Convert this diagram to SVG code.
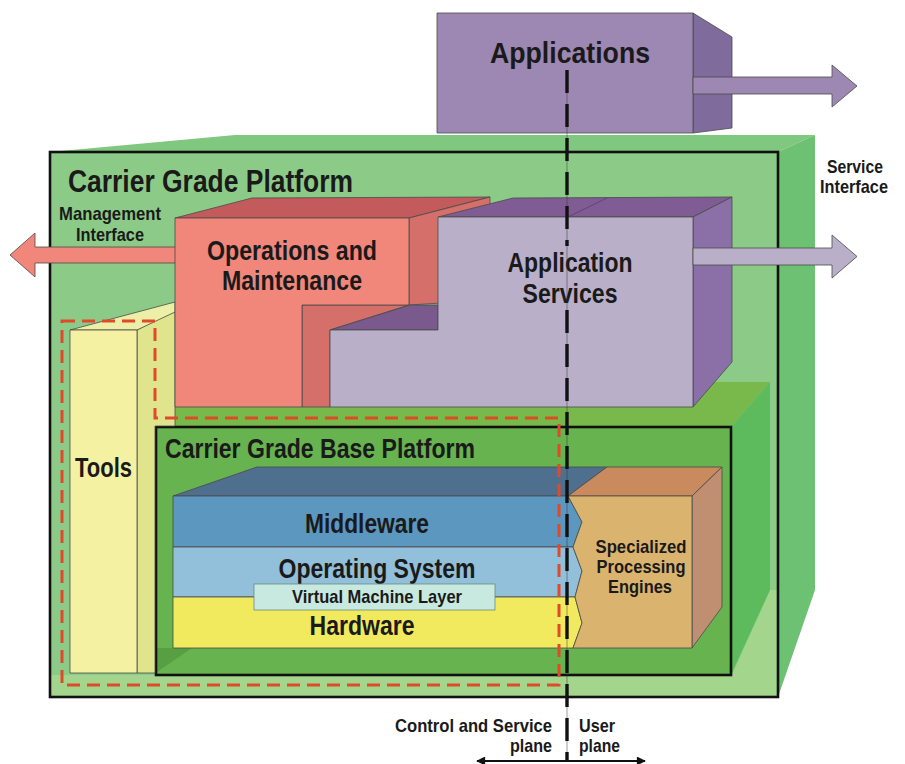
<svg xmlns="http://www.w3.org/2000/svg" width="905" height="764" viewBox="0 0 905 764">
<defs>
<style>
text{font-family:"Liberation Sans Narrow","Liberation Sans",Arial,sans-serif;font-weight:bold;fill:#1a1a1a}
.l{font-size:27px}
.m{font-size:19px}
.s{font-size:18.5px}
.e{stroke:#4a4a4a;stroke-width:0.8;stroke-linejoin:round}
.box{fill:none;stroke:#111;stroke-width:2.6}
</style>
<marker id="ah" viewBox="0 0 10 10" refX="9" refY="5" markerWidth="11" markerHeight="9" markerUnits="userSpaceOnUse" orient="auto">
<path d="M0,0 L10,5 L0,10 Z" fill="#111"/>
</marker>
</defs>
<rect width="905" height="764" fill="#ffffff"/>

<g id="carrier-grade-platform">
<polygon points="50,152 235,135 815,135 778,152" fill="#80c77f"/>
<polygon points="778,152 815,135 815,590 778,697" fill="#6dc172"/>
<rect x="50" y="152" width="728" height="545" fill="#8ccb87"/>
<polygon points="50,675 732,675 770,590 778,590 778,697 50,697" fill="#a3d68c"/>
<rect class="box" x="50" y="152" width="728" height="545"/>
<text x="68" y="192" style="font-size:31px" textLength="285" lengthAdjust="spacingAndGlyphs">Carrier Grade Platform</text>
</g>

<g id="base-platform">
<polygon points="156,427 200,382 770,382 731,427" fill="#79b94b"/>
<polygon points="731,427 770,382 770,590 731,675" fill="#5dbb5d"/>
<rect x="156" y="427" width="575" height="248" fill="#66b34f"/>
<polygon points="157,648 192,648 157,672" fill="#56a043"/>
<rect class="box" x="156" y="427" width="575" height="248"/>
<text class="l" x="165" y="458" textLength="310" lengthAdjust="spacingAndGlyphs">Carrier Grade Base Platform</text>
</g>

<g id="tools">
<polygon class="e" points="137,330 175,310 175,426 155,426 155,673 137,673" fill="#e0e48c"/>
<polygon class="e" points="70,330 175,302 175,312 137,330" fill="#ecefa6"/>
<rect class="e" x="70" y="330" width="67" height="343" fill="#f5f1a3"/>
<text class="l" x="75" y="477" textLength="57" lengthAdjust="spacingAndGlyphs">Tools</text>
</g>

<g id="management-interface">
<path class="e" d="M176,247 H35 V233 L10,255 L35,277 V263 H176 Z" fill="#f0877a"/>
<text class="s" x="110" y="220" text-anchor="middle" textLength="102" lengthAdjust="spacingAndGlyphs">Management</text>
<text class="s" x="110" y="241" text-anchor="middle" textLength="68" lengthAdjust="spacingAndGlyphs">Interface</text>
</g>

<g id="operations-maintenance">
<polygon class="e" points="175,218 252,198 490,197 409,218" fill="#c35a5c"/>
<polygon class="e" points="409,218 490,197 490,300 409,305" fill="#d56f69"/>
<polygon class="e" points="302,305 409,305 330,330 330,407 302,407" fill="#d56f69"/>
<polygon class="e" points="175,218 409,218 409,305 302,305 302,407 175,407" fill="#f0877a"/>
<text class="l" x="292" y="260" text-anchor="middle" textLength="170" lengthAdjust="spacingAndGlyphs">Operations and</text>
<text class="l" x="292" y="290" text-anchor="middle" textLength="140" lengthAdjust="spacingAndGlyphs">Maintenance</text>
</g>

<g id="application-services">
<polygon class="e" points="438,217 513,198 732,197 693,217" fill="#7f5c93"/>
<line x1="568" y1="217" x2="607" y2="198" stroke="#5a3f6e" stroke-width="0.8"/>
<polygon class="e" points="330,330 410,305 438,305 438,330" fill="#7a5a8c"/>
<polygon class="e" points="693,217 732,197 732,362 693,407" fill="#8a70a6"/>
<polygon class="e" points="438,217 693,217 693,407 330,407 330,330 438,330" fill="#b9afc8"/>
<text class="l" x="570" y="272" text-anchor="middle" textLength="125" lengthAdjust="spacingAndGlyphs">Application</text>
<text class="l" x="570" y="303" text-anchor="middle" textLength="95" lengthAdjust="spacingAndGlyphs">Services</text>
</g>

<g id="service-interface">
<path class="e" d="M693,248 H832 V235 L857,256.5 L832,278 V265 H693 Z" fill="#b9afc8"/>
<text class="m" x="855" y="173" text-anchor="middle" textLength="56" lengthAdjust="spacingAndGlyphs">Service</text>
<text class="m" x="854" y="193" text-anchor="middle" textLength="68" lengthAdjust="spacingAndGlyphs">Interface</text>
</g>

<g id="applications">
<polygon class="e" points="693,13 732,37 732,128 693,133" fill="#7f6b9c"/>
<rect class="e" x="437" y="13" width="256" height="120" fill="#9c88b2"/>
<path class="e" d="M693,77 H832 V65 L857,86 L832,107 V94 H693 Z" fill="#9c88b2"/>
<text x="490" y="63" style="font-size:29px" textLength="160" lengthAdjust="spacingAndGlyphs">Applications</text>
</g>

<g id="middleware">
<polygon class="e" points="173,496 257,467 607,467 568,496" fill="#4f6f8f"/>
<polygon class="e" points="173,496 568,496 582,522 573,547 173,547" fill="#5b97bf"/>
<text class="l" x="367" y="533" text-anchor="middle" textLength="124" lengthAdjust="spacingAndGlyphs">Middleware</text>
</g>
<g id="operating-system">
<polygon class="e" points="173,547 573,547 582,571 575,597 173,597" fill="#92bfd9"/>
<text class="l" x="377" y="578" text-anchor="middle" textLength="197" lengthAdjust="spacingAndGlyphs">Operating System</text>
</g>
<g id="hardware">
<polygon class="e" points="173,597 575,597 582,623 573,648 173,648" fill="#f2ea5e"/>
<text class="l" x="362" y="635" text-anchor="middle" textLength="105" lengthAdjust="spacingAndGlyphs">Hardware</text>
</g>
<g id="virtual-machine-layer">
<rect x="254" y="584" width="241" height="26" fill="#c8e9df" stroke="#6a8a80" stroke-width="0.8"/>
<text class="m" x="377" y="603" text-anchor="middle" textLength="170" lengthAdjust="spacingAndGlyphs">Virtual Machine Layer</text>
</g>

<g id="specialized-processing-engines">
<polygon class="e" points="568,496 607,467 722,467 692,496" fill="#c98a5e"/>
<polygon class="e" points="692,496 722,467 722,607 692,648" fill="#c08f72"/>
<polygon class="e" points="568,496 692,496 692,648 573,648 582,623 575,597 582,571 573,547 582,522" fill="#dab46e"/>
<text class="m" x="641" y="553" text-anchor="middle" textLength="91" lengthAdjust="spacingAndGlyphs">Specialized</text>
<text class="m" x="641" y="573" text-anchor="middle" textLength="89" lengthAdjust="spacingAndGlyphs">Processing</text>
<text class="m" x="640" y="593" text-anchor="middle" textLength="64" lengthAdjust="spacingAndGlyphs">Engines</text>
</g>

<g id="connectors">
<path d="M62,321 H155 V418 H559 V685 H62 Z" fill="none" stroke="#e04a2a" stroke-width="3" stroke-dasharray="13 7"/>
<line x1="567" y1="70" x2="567" y2="762" stroke="#333" stroke-width="0.8" opacity="0.6"/>
<line x1="567" y1="70" x2="567" y2="246" stroke="#111" stroke-width="3.4" stroke-dasharray="23 11"/>
<line x1="567" y1="310" x2="567" y2="762" stroke="#111" stroke-width="3.4" stroke-dasharray="23 11"/>
<line x1="567" y1="761" x2="477" y2="761" stroke="#111" stroke-width="2" marker-end="url(#ah)"/>
<line x1="567" y1="761" x2="645" y2="761" stroke="#111" stroke-width="2" marker-end="url(#ah)"/>
</g>

<g id="plane-labels">
<text class="m" x="552" y="732" text-anchor="end" textLength="157" lengthAdjust="spacingAndGlyphs">Control and Service</text>
<text class="m" x="552" y="752" text-anchor="end" textLength="42" lengthAdjust="spacingAndGlyphs">plane</text>
<text class="m" x="579" y="732" textLength="36" lengthAdjust="spacingAndGlyphs">User</text>
<text class="m" x="579" y="752" textLength="41" lengthAdjust="spacingAndGlyphs">plane</text>
</g>
</svg>
